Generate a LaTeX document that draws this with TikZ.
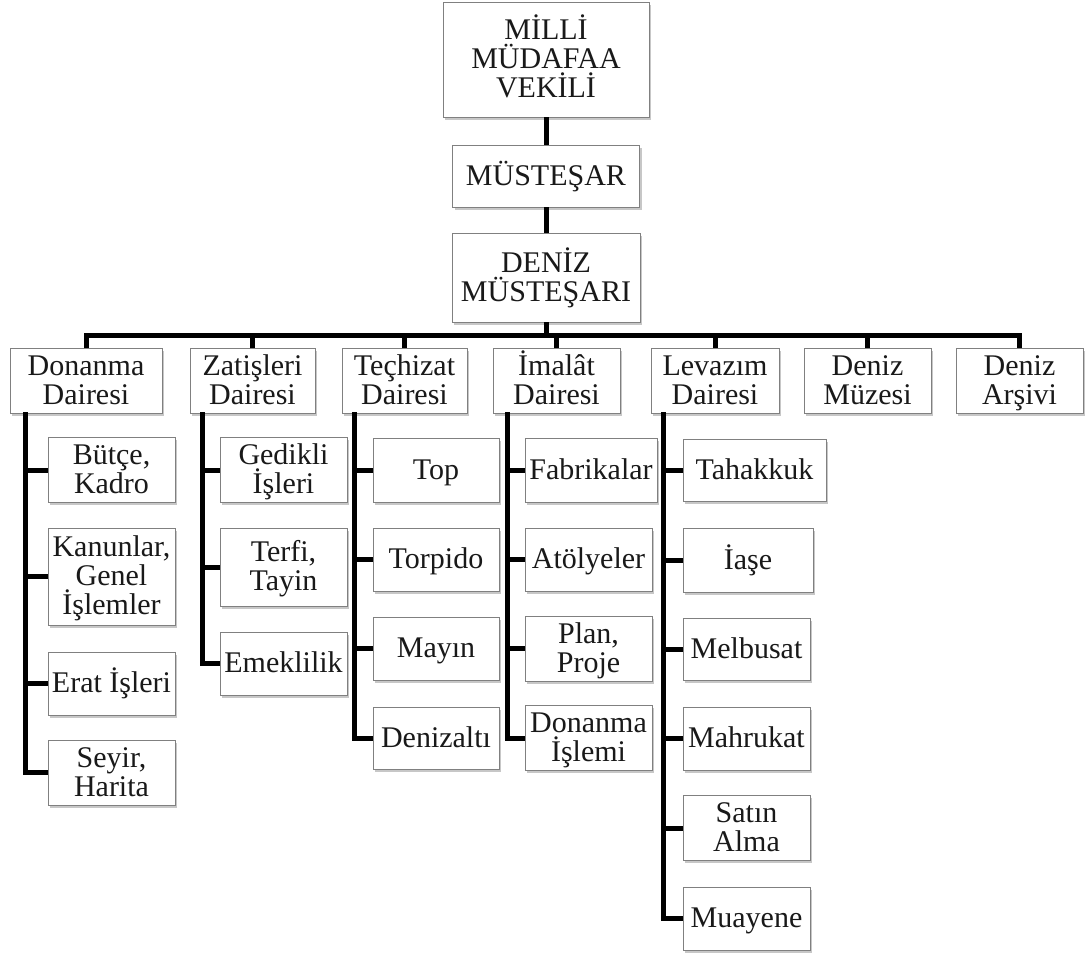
\documentclass[tikz,border=0pt]{standalone}
\usepackage{fontspec}
\setmainfont{Liberation Serif}
\usetikzlibrary{shadows}
\newcommand\topstr{\rule{0pt}{27pt}}
\newcommand\botstr{\rule[-9pt]{0pt}{9pt}}
\begin{document}
\begin{tikzpicture}[x=1pt,y=-1pt,
  orgbox/.style={draw=black!50, line width=0.8pt, fill=white, text=black!90,
    align=center, inner sep=0pt, font=\fontsize{30}{29}\selectfont,
    drop shadow={shadow xshift=2pt, shadow yshift=-2.5pt, fill=black, opacity=0.22}},
  conn/.style={draw=black, line width=5pt}]
\useasboundingbox (0,0) rectangle (1087,953);

% top chain
\node[orgbox, minimum width=206pt, minimum height=115pt] (top) at (546,59.5) {\topstr MİLLİ\\MÜDAFAA\\VEKİLİ\botstr};
\node[orgbox, minimum width=187pt, minimum height=62pt] (mus) at (546,176) {\topstr MÜSTEŞAR\botstr};
\node[orgbox, minimum width=188pt, minimum height=89pt] (den) at (546,277.5) {\topstr DENİZ\\MÜSTEŞARI\botstr};
\coordinate (bus) at (546,335);

% level 2
\node[orgbox, minimum width=152pt, minimum height=62pt] (don) at (86,381) {\topstr Donanma\\Dairesi\botstr};
\node[orgbox, minimum width=125pt, minimum height=62pt] (zat) at (252.5,381) {\topstr Zatişleri\\Dairesi\botstr};
\node[orgbox, minimum width=125pt, minimum height=62pt] (tec) at (404.5,381) {\topstr Teçhizat\\Dairesi\botstr};
\node[orgbox, minimum width=127pt, minimum height=62pt] (ima) at (556.5,381) {\topstr İmalât\\Dairesi\botstr};
\node[orgbox, minimum width=128pt, minimum height=62pt] (lev) at (715,381) {\topstr Levazım\\Dairesi\botstr};
\node[orgbox, minimum width=127pt, minimum height=62pt] (muz) at (867.5,381) {\topstr Deniz\\Müzesi\botstr};
\node[orgbox, minimum width=127pt, minimum height=62pt] (ars) at (1019.5,381) {\topstr Deniz\\Arşivi\botstr};

% Donanma children
\node[orgbox, minimum width=127pt, minimum height=64pt] (d1) at (111.5,470) {\topstr Bütçe,\\Kadro\botstr};
\node[orgbox, minimum width=127pt, minimum height=97pt] (d2) at (111.5,576.5) {\topstr Kanunlar,\\Genel\\İşlemler\botstr};
\node[orgbox, minimum width=127pt, minimum height=63pt] (d3) at (111.5,683.5) {\topstr Erat İşleri\botstr};
\node[orgbox, minimum width=127pt, minimum height=63pt] (d4) at (111.5,772.5) {\topstr Seyir,\\Harita\botstr};

% Zatisleri children
\node[orgbox, minimum width=127pt, minimum height=64pt] (z1) at (283.5,470) {\topstr Gedikli\\İşleri\botstr};
\node[orgbox, minimum width=127pt, minimum height=78pt] (z2) at (283.5,567) {\topstr Terfi,\\Tayin\botstr};
\node[orgbox, minimum width=127pt, minimum height=63pt] (z3) at (283.5,663.5) {\topstr Emeklilik\botstr};

% Techizat children
\node[orgbox, minimum width=126pt, minimum height=64pt] (t1) at (436,470) {\topstr Top\botstr};
\node[orgbox, minimum width=126pt, minimum height=63pt] (t2) at (436,559.5) {\topstr Torpido\botstr};
\node[orgbox, minimum width=126pt, minimum height=63pt] (t3) at (436,648.5) {\topstr Mayın\botstr};
\node[orgbox, minimum width=126pt, minimum height=62pt] (t4) at (436,738) {\topstr Denizaltı\botstr};

% Imalat children
\node[orgbox, minimum width=132pt, minimum height=64pt] (i1) at (591,470) {\topstr Fabrikalar\botstr};
\node[orgbox, minimum width=127pt, minimum height=63pt] (i2) at (588.5,559.5) {\topstr Atölyeler\botstr};
\node[orgbox, minimum width=127pt, minimum height=63pt] (i3) at (588.5,648.5) {\topstr Plan,\\Proje\botstr};
\node[orgbox, minimum width=127pt, minimum height=62pt] (i4) at (588.5,738) {\topstr Donanma\\İşlemi\botstr};

% Levazim children
\node[orgbox, minimum width=143pt, minimum height=62pt] (l1) at (754.5,470) {\topstr Tahakkuk\botstr};
\node[orgbox, minimum width=130pt, minimum height=64pt] (l2) at (748,560) {\topstr İaşe\botstr};
\node[orgbox, minimum width=127pt, minimum height=62pt] (l3) at (746.5,649) {\topstr Melbusat\botstr};
\node[orgbox, minimum width=127pt, minimum height=63pt] (l4) at (746.5,738.5) {\topstr Mahrukat\botstr};
\node[orgbox, minimum width=127pt, minimum height=62pt] (l5) at (746.5,828) {\topstr Satın\\Alma\botstr};
\node[orgbox, minimum width=127pt, minimum height=63pt] (l6) at (746.5,918.5) {\topstr Muayene\botstr};

% top chain connectors
\draw[conn] (top.south) -- (mus.north);
\draw[conn] (mus.south) -- (den.north);
\draw[conn] (den.south) -- (bus);
\draw[conn] (don.north) |- (bus) -| (ars.north);
\foreach \n in {zat,tec,ima,lev,muz}
  \draw[conn] (\n.north) -- (\n.north |- bus);

% stems
\coordinate (ds) at (25,412);
\coordinate (zs) at (202,412);
\coordinate (ts) at (354,412);
\coordinate (is) at (507,412);
\coordinate (ls) at (663,412);

\draw[conn] (ds) |- (d4.west);
\foreach \n in {d1,d2,d3} \draw[conn] (\n.west -| ds) -- (\n.west);
\draw[conn] (zs) |- (z3.west);
\foreach \n in {z1,z2} \draw[conn] (\n.west -| zs) -- (\n.west);
\draw[conn] (ts) |- (t4.west);
\foreach \n in {t1,t2,t3} \draw[conn] (\n.west -| ts) -- (\n.west);
\draw[conn] (is) |- (i4.west);
\foreach \n in {i1,i2,i3} \draw[conn] (\n.west -| is) -- (\n.west);
\draw[conn] (ls) |- (l6.west);
\foreach \n in {l1,l2,l3,l4,l5} \draw[conn] (\n.west -| ls) -- (\n.west);
\end{tikzpicture}
\end{document}
